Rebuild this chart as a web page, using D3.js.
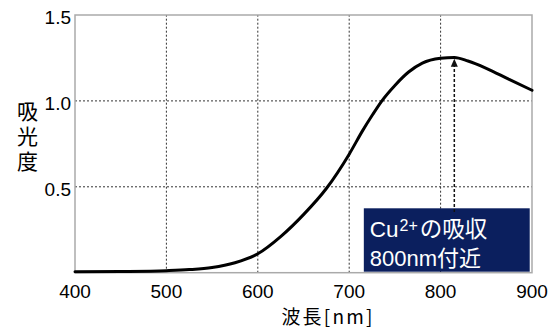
<!DOCTYPE html>
<html><head><meta charset="utf-8">
<script src="https://cdn.jsdelivr.net/npm/d3@7"></script>
<style>
html,body{margin:0;padding:0;background:#fff;}
svg{display:block;}
text{font-family:"Liberation Sans","Noto Sans CJK JP",Arial,sans-serif;fill:#000;}
.jp{font-family:"Noto Sans CJK JP","Liberation Sans",sans-serif;}
</style></head>
<body>
<svg id="c" width="557" height="330"></svg>
<script>
const wavelengths = [400,450,500,525,550,575,600,625,650,675,700,715,725,735,750,765,780,800,815,830,850,875,900];
const absorbance  = [0.005,0.007,0.012,0.018,0.03,0.058,0.11,0.21,0.338,0.49,0.69,0.83,0.915,0.995,1.09,1.168,1.22,1.248,1.253,1.232,1.19,1.125,1.062];
const xTicks = [400,500,600,700,800,900];
const yTicks = [0.5,1.0,1.5];
const yTickLabels = ["0.5","1.0","1.5"];
const peakWavelength = 815;
const peakValue = 1.245;
const xTitle = "波長[nm]";
const yTitle = "吸光度";
const noteLine1 = ["Cu","2+","の吸収"];
const noteLine2 = "800nm付近";

const svg = d3.select("#c");
const x = d3.scaleLinear().domain([400,900]).range([75,532]);
const y = d3.scaleLinear().domain([0,1.5]).range([272.7,15]);

// grid
const g = svg.append("g");
g.selectAll(".vg").data(xTicks.filter(d=>d>400&&d<900)).enter().append("line")
  .attr("x1",d=>x(d)).attr("x2",d=>x(d)).attr("y1",y(0)).attr("y2",y(1.5))
  .attr("stroke","#333").attr("stroke-width",1).attr("stroke-dasharray","2,2");
g.selectAll(".hg").data(yTicks.filter(d=>d<1.5)).enter().append("line")
  .attr("x1",x(400)).attr("x2",x(900)).attr("y1",d=>y(d)).attr("y2",d=>y(d))
  .attr("stroke","#333").attr("stroke-width",1).attr("stroke-dasharray","2,2");

// frame
svg.append("rect").attr("x",x(400)).attr("y",y(1.5)).attr("width",x(900)-x(400)).attr("height",y(0)-y(1.5))
  .attr("fill","none").attr("stroke","#aaa").attr("stroke-width",1.5);

// annotation box
const bx0 = x(716), bx1 = x(897.5);
svg.append("rect").attr("x",bx0).attr("y",208.3).attr("width",bx1-bx0).attr("height",y(0)-1-208.3)
  .attr("fill","#0b1f5e");
const t1 = svg.append("text").attr("x",bx0+6).attr("y",237).attr("font-size",22.5).style("fill","#fff");
t1.append("tspan").text(noteLine1[0]);
t1.append("tspan").attr("dy",-6).attr("dx",1).attr("font-size",16).text(noteLine1[1]);
t1.append("tspan").attr("dy",6).attr("class","jp").attr("dx",2).text(noteLine1[2]);
svg.append("text").attr("x",bx0+6).attr("y",265.5).attr("font-size",22).style("fill","#fff")
  .text(noteLine2);

// arrow
svg.append("line").attr("x1",x(peakWavelength)).attr("x2",x(peakWavelength)).attr("y1",212).attr("y2",y(peakValue)+6)
  .attr("stroke","#111").attr("stroke-width",1.5).attr("stroke-dasharray","3,2");
const ax = x(peakWavelength), ay = y(peakValue);
svg.append("path").attr("d",`M${ax},${ay} L${ax-3.5},${ay+8} L${ax+3.5},${ay+8} Z`).attr("fill","#111");

// curve
const data = wavelengths.map((w,i)=>[w,absorbance[i]]);
svg.append("path").datum(data)
  .attr("d",d3.line().x(d=>x(d[0])).y(d=>y(d[1])).curve(d3.curveMonotoneX))
  .attr("fill","none").attr("stroke","#000").attr("stroke-width",3).attr("stroke-linecap","round");

// tick labels
svg.selectAll(".xl").data(xTicks).enter().append("text")
  .attr("x",d=>x(d)).attr("y",297.5).attr("text-anchor","middle").attr("font-size",19).text(d=>d);
svg.selectAll(".yl").data(yTicks).enter().append("text")
  .attr("x",71).attr("y",d=>y(d)+9).attr("text-anchor","end").attr("font-size",19).text((d,i)=>yTickLabels[i]);

// titles
svg.append("text").attr("class","jp").attr("x",328).attr("y",324).attr("text-anchor","middle")
  .attr("font-size",19).attr("letter-spacing",2.2).text(xTitle);
svg.append("text").attr("class","jp").attr("x",27.5).attr("y",138).attr("text-anchor","middle")
  .attr("font-size",21).attr("letter-spacing",4)
  .style("writing-mode","vertical-rl").text(yTitle);
</script>
</body></html>
